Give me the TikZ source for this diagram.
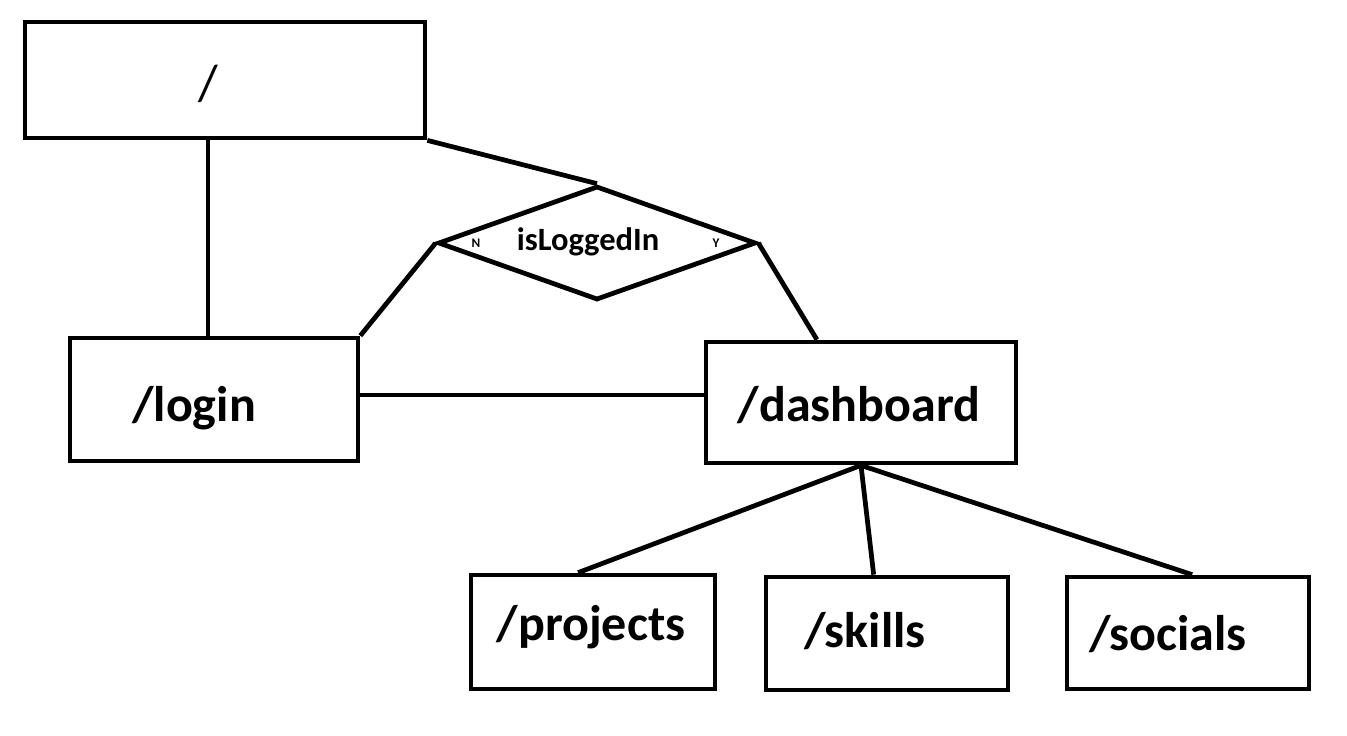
\documentclass[tikz,border=0pt]{standalone}
\usepackage{fontspec}
\setmainfont{Carlito}
\usepackage{tikz}
\usetikzlibrary{shapes, positioning}
\usetikzlibrary{calc}

\tikzset{
	page/.style={x=0.02cm, y=-0.02cm, line width=2.7pt, line join=miter},
	box/.style={draw, rectangle, inner sep=0pt},
	route/.style={anchor=base, inner sep=0pt, font=\fontsize{28.5pt}{32pt}\selectfont\bfseries},
	check/.style={draw, diamond, inner sep=0pt, aspect=2.79},
	yesno/.style={anchor=base, inner sep=0pt, font=\fontsize{7.5pt}{8pt}\selectfont\bfseries}
}

\begin{document}
\begin{tikzpicture}[page]
		\useasboundingbox (0,0) rectangle (1347,735);
		% route boxes
		\node[box, minimum width=8cm, minimum height=2.32cm] (root) at (225,80) {};
		\node[box, minimum width=5.76cm, minimum height=2.46cm] (login) at (214,399.5) {};
		\node[box, minimum width=6.2cm, minimum height=2.42cm] (dash) at (861,402.5) {};
		\node[box, minimum width=4.88cm, minimum height=2.28cm] (proj) at (593,632) {};
		\node[box, minimum width=4.84cm, minimum height=2.26cm] (skill) at (887,633.5) {};
		\node[box, minimum width=4.84cm, minimum height=2.24cm] (soc) at (1188,633) {};
		\node[check, minimum width=6.36cm, minimum height=2.28cm] (logged) at (597,243) {};
		% texts
		\node[route, font=\fontsize{29pt}{32pt}\selectfont] (rootT) at (208,100) {/};
		\node[route] (loginT) at (194,421) {/login};
		\node[route] (dashT) at (859,421) {/dashboard};
		\node[route] (projT) at (591,640) {/projects};
		\node[route] (skillT) at (865,647) {/skills};
		\node[route] (socT) at (1168,650) {/socials};
		\node[route, font=\fontsize{18.5pt}{20pt}\selectfont\bfseries] (loggedT) at (588,250) {isLoggedIn};
		\node[yesno] (no) at (476,247) {N};
		\node[yesno] (yes) at (716,247) {Y};
		% connectors
		\draw (root.south -| rootT) -- (login.north -| rootT);
		\draw (root.south east) -- (logged.north);
		\draw (logged.west) -- (login.north east);
		\draw (logged.east) -- ($(dash.north west)!0.36!(dash.north east)$);
		\draw ([yshift=2.5pt]login.east) -- ([yshift=2.5pt]login.east -| dash.west);
		\draw (dash.south) -- ($(proj.north west)!0.44!(proj.north east)$);
		\draw (dash.south) -- ($(skill.north west)!0.446!(skill.north east)$);
		\draw (dash.south) -- ($(soc.north west)!0.517!(soc.north east)$);
	\end{tikzpicture}
\end{document}
